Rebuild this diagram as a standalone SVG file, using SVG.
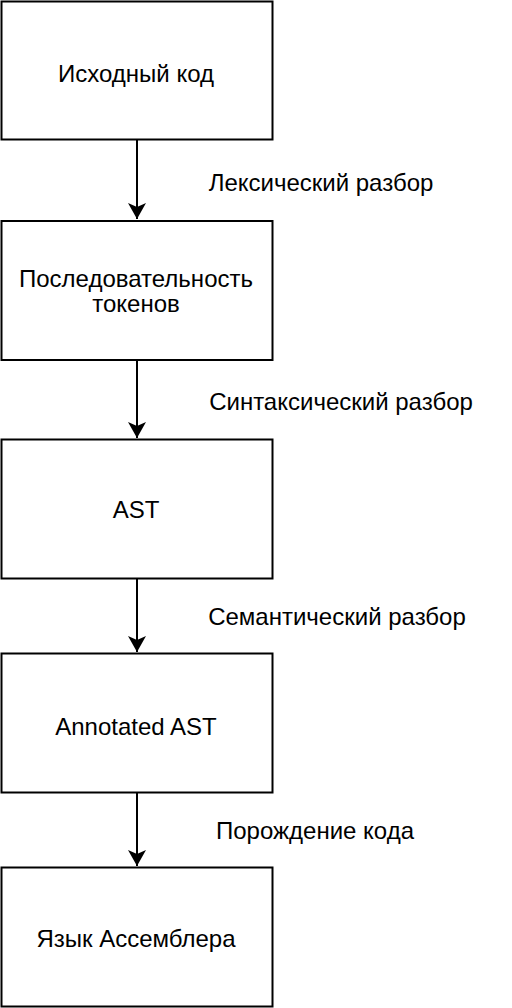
<svg xmlns="http://www.w3.org/2000/svg" width="512" height="1008" viewBox="0 0 512 1008">
<style>
.box{fill:#ffffff;stroke:#000000;stroke-width:2}
.t{font-family:"Liberation Sans",Arial,Helvetica,sans-serif;font-size:24px;fill:#000000;text-anchor:middle}
.edge{stroke:#000000;stroke-width:2;fill:none}
</style>
<defs>
<marker id="arr" markerWidth="20" markerHeight="20" refX="16" refY="9" orient="auto" markerUnits="userSpaceOnUse">
<path d="M0,0 L16,9 L0,18 L4,9 Z" fill="#000000"/>
</marker>
</defs>
<rect width="512" height="1008" fill="#ffffff"/>
<g id="connectors">
<line class="edge" x1="137" y1="140" x2="137" y2="219" marker-end="url(#arr)"/>
<line class="edge" x1="137" y1="360" x2="137" y2="438" marker-end="url(#arr)"/>
<line class="edge" x1="137" y1="579" x2="137" y2="652" marker-end="url(#arr)"/>
<line class="edge" x1="137" y1="793" x2="137" y2="866" marker-end="url(#arr)"/>
<text class="t" x="321" y="191">Лексический разбор</text>
<text class="t" x="341" y="410">Синтаксический разбор</text>
<text class="t" x="337" y="625">Семантический разбор</text>
<text class="t" x="315" y="839">Порождение кода</text>
</g>
<g id="node1">
<rect class="box" x="1.5" y="1.5" width="271" height="138"/>
<text class="t" x="136" y="82">Исходный код</text>
</g>
<g id="node2">
<rect class="box" x="1.5" y="221" width="271" height="139"/>
<text class="t" x="136" y="287">Последовательность</text>
<text class="t" x="136" y="312">токенов</text>
</g>
<g id="node3">
<rect class="box" x="1.5" y="439.5" width="271" height="139"/>
<text class="t" x="136" y="518">AST</text>
</g>
<g id="node4">
<rect class="box" x="1.5" y="653.5" width="271" height="139"/>
<text class="t" x="136" y="735">Annotated AST</text>
</g>
<g id="node5">
<rect class="box" x="1.5" y="867.5" width="271" height="139"/>
<text class="t" x="136" y="947">Язык Ассемблера</text>
</g>
</svg>
